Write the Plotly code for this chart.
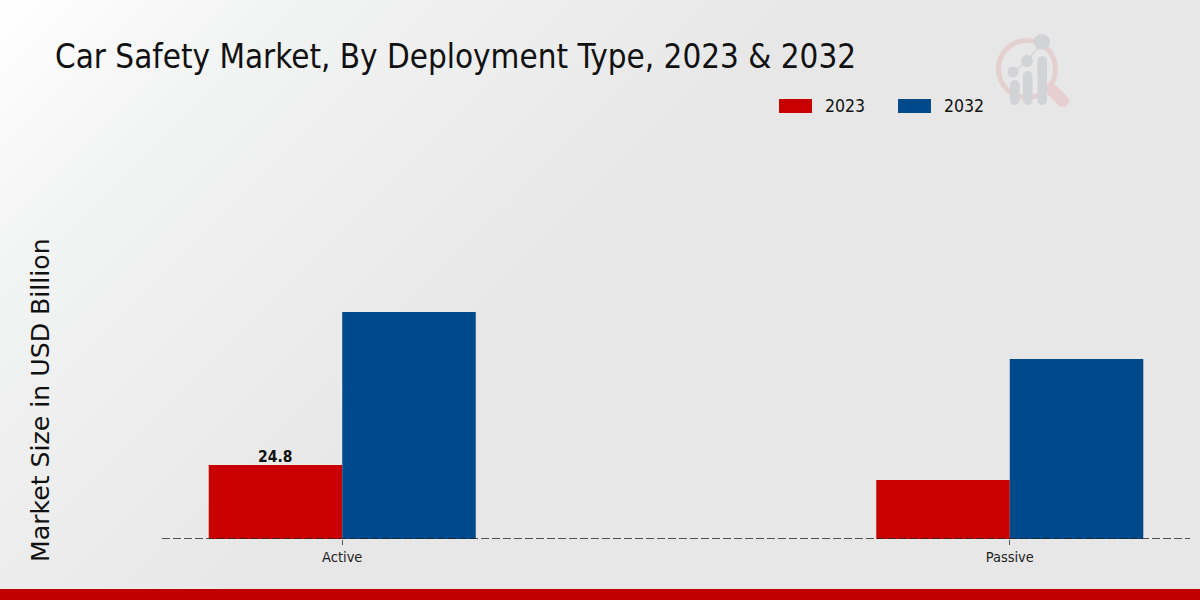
import base64
import plotly.graph_objects as go

categories = ["Active", "Passive"]
series_2023 = [24.8, 19.8]
series_2032 = [76.1, 60.3]
label_2023 = "24.8"
years = ["2023", "2032"]

RED = "#c80000"
BLUE = "#004a8b"
COND = "DejaVu Sans Condensed, DejaVu Sans"


def svg_uri(svg):
    return "data:image/svg+xml;base64," + base64.b64encode(svg.encode()).decode()


bg_svg = """<svg xmlns="http://www.w3.org/2000/svg" width="1200" height="600" viewBox="0 0 1200 600">
<defs><linearGradient id="g" gradientUnits="userSpaceOnUse" x1="0" y1="0" x2="420" y2="420">
<stop offset="0" stop-color="#ffffff"/><stop offset="0.35" stop-color="#f2f3f3"/>
<stop offset="1" stop-color="#e7e7e7"/></linearGradient></defs>
<rect width="1200" height="600" fill="url(#g)"/></svg>"""

logo_svg = """<svg xmlns="http://www.w3.org/2000/svg" width="150" height="120" viewBox="0 0 150 120">
<circle cx="77" cy="59" r="28.5" fill="none" stroke="#e5d0d0" stroke-width="5"/>
<path d="M102 80 L113 91" stroke="#e8cfcf" stroke-width="12" stroke-linecap="round"/>
<path d="M63 62 L77 51 L92 32" stroke="#d2d3d6" stroke-width="1.2" fill="none"/>
<circle cx="63" cy="62" r="5.5" fill="#d2d3d6"/><circle cx="77" cy="51" r="6" fill="#d2d3d6"/>
<circle cx="92" cy="32" r="8" fill="#d2d3d6"/>
<rect x="60" y="70" width="9.5" height="25" rx="4.7" fill="#d2d3d6"/>
<rect x="73" y="61" width="9.5" height="34" rx="4.7" fill="#d2d3d6"/>
<rect x="87.5" y="46" width="9.5" height="49" rx="4.7" fill="#d2d3d6"/></svg>"""

fig = go.Figure()
fig.add_bar(x=categories, y=series_2023, name=years[0], marker_color=RED, marker_line_width=0)
fig.add_bar(x=categories, y=series_2032, name=years[1], marker_color=BLUE, marker_line_width=0)

fig.update_layout(
    width=1200,
    height=600,
    barmode="group",
    bargap=0.6,
    bargroupgap=0,
    showlegend=False,
    margin=dict(l=162, r=10, t=100, b=61),
    paper_bgcolor="rgba(0,0,0,0)",
    plot_bgcolor="rgba(0,0,0,0)",
    font=dict(family="DejaVu Sans", color="#111111"),
    images=[
        dict(source=svg_uri(bg_svg), xref="paper", yref="paper", x=-162 / 1028, y=1 + 100 / 439,
             sizex=1200 / 1028, sizey=600 / 439, xanchor="left", yanchor="top",
             sizing="stretch", layer="below"),
        dict(source=svg_uri(logo_svg), xref="paper", yref="paper", x=(950 - 162) / 1028, y=1 + 90 / 439,
             sizex=150 / 1028, sizey=120 / 439, xanchor="left", yanchor="top",
             sizing="stretch", layer="below"),
    ],
)
fig.update_xaxes(range=[-0.27, 1.27], showline=False, showgrid=False, zeroline=False,
                 ticks="outside", ticklen=5, tickcolor="#555555", tickwidth=1,
                 tickfont=dict(family=COND, size=14.5, color="#222222"))
fig.update_yaxes(range=[0, 147.1], visible=False)

# value label over the first red bar only
fig.add_annotation(x=categories[0], y=series_2023[0], xshift=-67, yshift=-3, text=label_2023, showarrow=False,
                   xanchor="center", yanchor="bottom",
                   font=dict(family=COND, size=15.5, color="#111111", weight="bold"))

# dashed baseline sits on top of the bars
fig.add_shape(type="line", xref="paper", yref="y", x0=0, x1=1, y0=0, y1=0, layer="above",
              line=dict(color="#222222", width=1.3, dash="8px,3px"))
# red strip along the bottom
fig.add_shape(type="rect", xref="paper", yref="paper", x0=-162 / 1028, x1=1038 / 1028,
              y0=-61 / 439, y1=-50 / 439, fillcolor="#c00000", line_width=0, layer="above")

# legend keys
for x0, name, colour in zip([779, 898], years, [RED, BLUE]):
    fig.add_shape(type="rect", xref="paper", yref="paper",
                  x0=(x0 - 162) / 1028, x1=(x0 + 33 - 162) / 1028,
                  y0=1 - (113 - 100) / 439, y1=1 - (99 - 100) / 439,
                  fillcolor=colour, line_width=0)
    fig.add_annotation(xref="paper", yref="paper", x=(x0 + 44 - 162) / 1028, y=1 - (106 - 100) / 439,
                       text=name, showarrow=False, xanchor="left", yanchor="middle",
                       font=dict(family=COND, size=17.5, color="#111111"))

fig.add_annotation(xref="paper", yref="paper", x=(53 - 162) / 1028, y=1 - (57 - 100) / 439,
                   text="Car Safety Market, By Deployment Type, 2023 & 2032", showarrow=False,
                   xanchor="left", yanchor="middle",
                   font=dict(family=COND, size=32.9, color="#111111"))
fig.add_annotation(xref="paper", yref="paper", x=(40 - 162) / 1028, y=1 - (400 - 100) / 439,
                   text="Market Size in USD Billion", showarrow=False, textangle=-90,
                   xanchor="center", yanchor="middle",
                   font=dict(family="DejaVu Sans", size=25.2, color="#111111"))

# the page's default body margin would push the chart off by 8px
fig.write_html("out.html", config=dict(displayModeBar=False),
               post_script="document.body.style.margin='0';")
